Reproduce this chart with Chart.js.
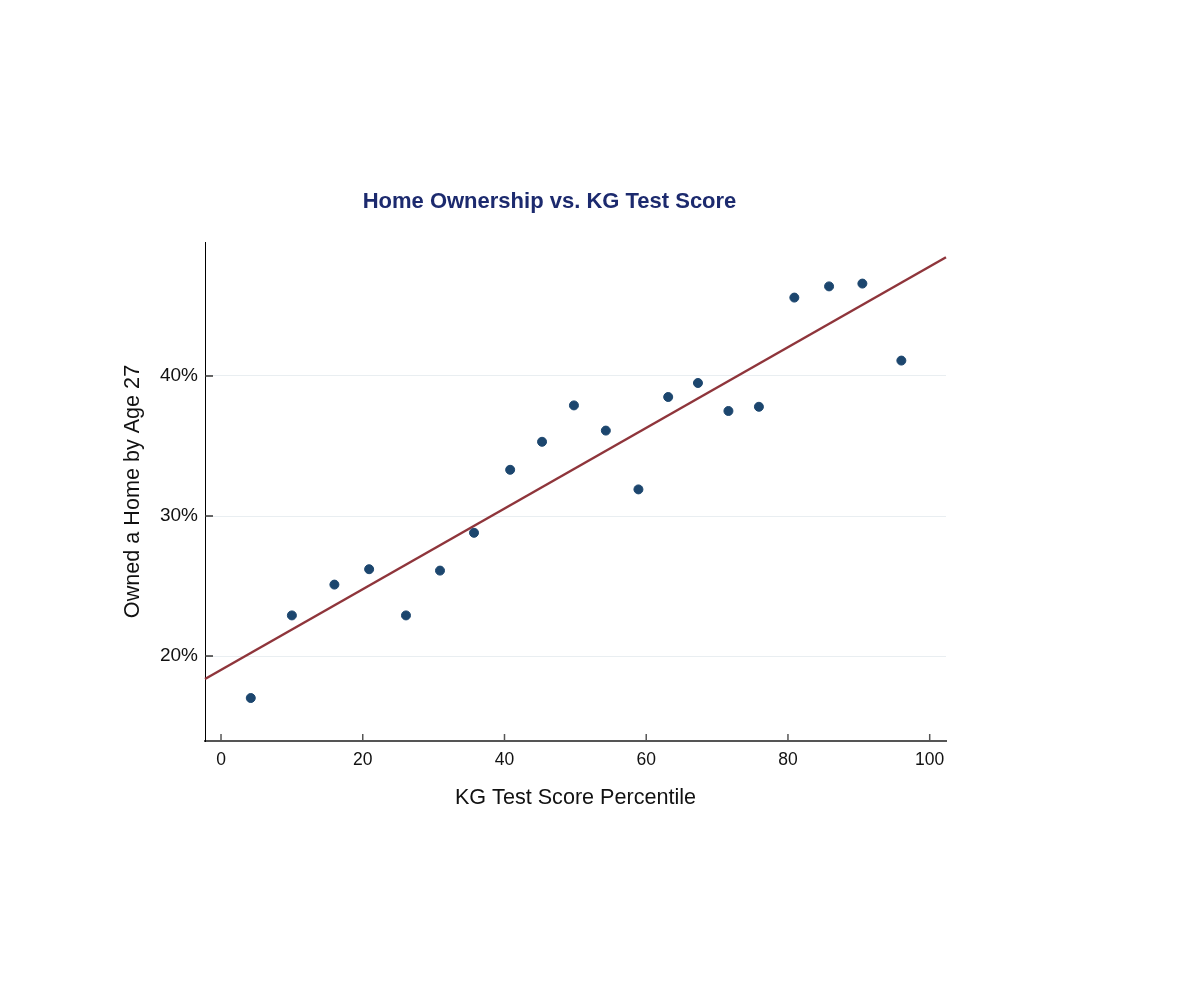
<!DOCTYPE html>
<html>
<head>
<meta charset="utf-8">
<script src="https://cdn.jsdelivr.net/npm/chart.js@4.4.1/dist/chart.umd.min.js"></script>
<style>
  body { margin: 0; background: #fff; }
</style>
</head>
<body>
<canvas id="chart" width="1200" height="995"></canvas>
<script>
// values
const scoreX = [4.2, 10.0, 16.0, 20.9, 26.1, 30.9, 35.7, 40.8, 45.3, 49.8,
                54.3, 58.9, 63.1, 67.3, 71.6, 75.9, 80.9, 85.8, 90.5, 96.0];
const ownedY = [17.0, 22.9, 25.1, 26.2, 22.9, 26.1, 28.8, 33.3, 35.3, 37.9,
                36.1, 31.9, 38.5, 39.5, 37.5, 37.8, 45.6, 46.4, 46.6, 41.1];
const fitX = [-2.26, 102.3];
const fitY = [18.36, 48.48];
const xTicks = [0, 20, 40, 60, 80, 100];
const yTicks = [20, 30, 40];

const chartTitle = 'Home Ownership vs. KG Test Score';
const FONT = "'Liberation Sans', Arial, sans-serif";

// Stata style ticks point into the plot area
const innerTicks = {
  id: 'innerTicks',
  beforeDatasetsDraw(chart) {
    const { ctx, chartArea, scales: { x, y } } = chart;
    ctx.save();
    ctx.lineWidth = 1.5;
    ctx.strokeStyle = '#555';
    x.ticks.forEach(t => {
      const px = x.getPixelForValue(t.value);
      ctx.beginPath();
      ctx.moveTo(px, chartArea.bottom);
      ctx.lineTo(px, chartArea.bottom - 7);
      ctx.stroke();
    });
    ctx.strokeStyle = '#333';
    y.ticks.forEach(t => {
      const py = y.getPixelForValue(t.value);
      ctx.beginPath();
      ctx.moveTo(chartArea.left, py);
      ctx.lineTo(chartArea.left + 8, py);
      ctx.stroke();
    });
    ctx.restore();
  }
};

// title sits a bit left of the plot centre, so draw it here
const offsetTitle = {
  id: 'offsetTitle',
  afterDraw(chart) {
    const ctx = chart.ctx;
    ctx.save();
    ctx.font = 'bold 22px ' + FONT;
    ctx.fillStyle = '#1c2a6e';
    ctx.textAlign = 'center';
    ctx.textBaseline = 'middle';
    ctx.fillText(chartTitle, 549.5, 202);
    ctx.restore();
  }
};

new Chart(document.getElementById('chart'), {
  type: 'scatter',
  data: {
    datasets: [
      {
        label: 'Owned a Home by Age 27',
        data: scoreX.map((v, i) => ({ x: v, y: ownedY[i] })),
        backgroundColor: '#1c466e',
        borderColor: '#1c466e',
        pointRadius: 4.5,
        pointHoverRadius: 4.5
      },
      {
        type: 'line',
        label: 'Fit',
        data: fitX.map((v, i) => ({ x: v, y: fitY[i] })),
        borderColor: '#8f353b',
        borderWidth: 2.5,
        pointRadius: 0,
        fill: false,
        clip: false
      }
    ]
  },
  options: {
    responsive: false,
    animation: false,
    layout: { padding: { left: 120, right: 254, top: 242, bottom: 184 } },
    plugins: {
      legend: { display: false },
      tooltip: { enabled: false },
      title: { display: false }
    },
    scales: {
      x: {
        type: 'linear',
        min: -2.26,
        max: 102.3,
        afterBuildTicks: s => { s.ticks = xTicks.map(v => ({ value: v })); },
        afterFit: s => { s.height = 70; },
        grid: { display: false, drawTicks: false },
        border: { display: true, color: '#555', width: 2 },
        ticks: {
          padding: 9,
          color: '#111',
          font: { family: FONT, size: 17.5 }
        },
        title: {
          display: true,
          text: 'KG Test Score Percentile',
          color: '#111',
          padding: 0,
          font: { family: FONT, size: 21.6 }
        }
      },
      y: {
        type: 'linear',
        min: 13.93,
        max: 49.57,
        afterBuildTicks: s => { s.ticks = yTicks.map(v => ({ value: v })); },
        afterFit: s => { s.width = 85; },
        grid: { color: '#e9eef1', lineWidth: 1, drawTicks: false },
        border: { display: true, color: '#000', width: 1 },
        ticks: {
          padding: 7,
          color: '#111',
          font: { family: FONT, size: 19 },
          callback: v => v + '%'
        },
        title: {
          display: true,
          text: 'Owned a Home by Age 27',
          color: '#111',
          padding: 0,
          font: { family: FONT, size: 21.6 }
        }
      }
    }
  },
  plugins: [innerTicks, offsetTitle]
});
</script>
</body>
</html>
